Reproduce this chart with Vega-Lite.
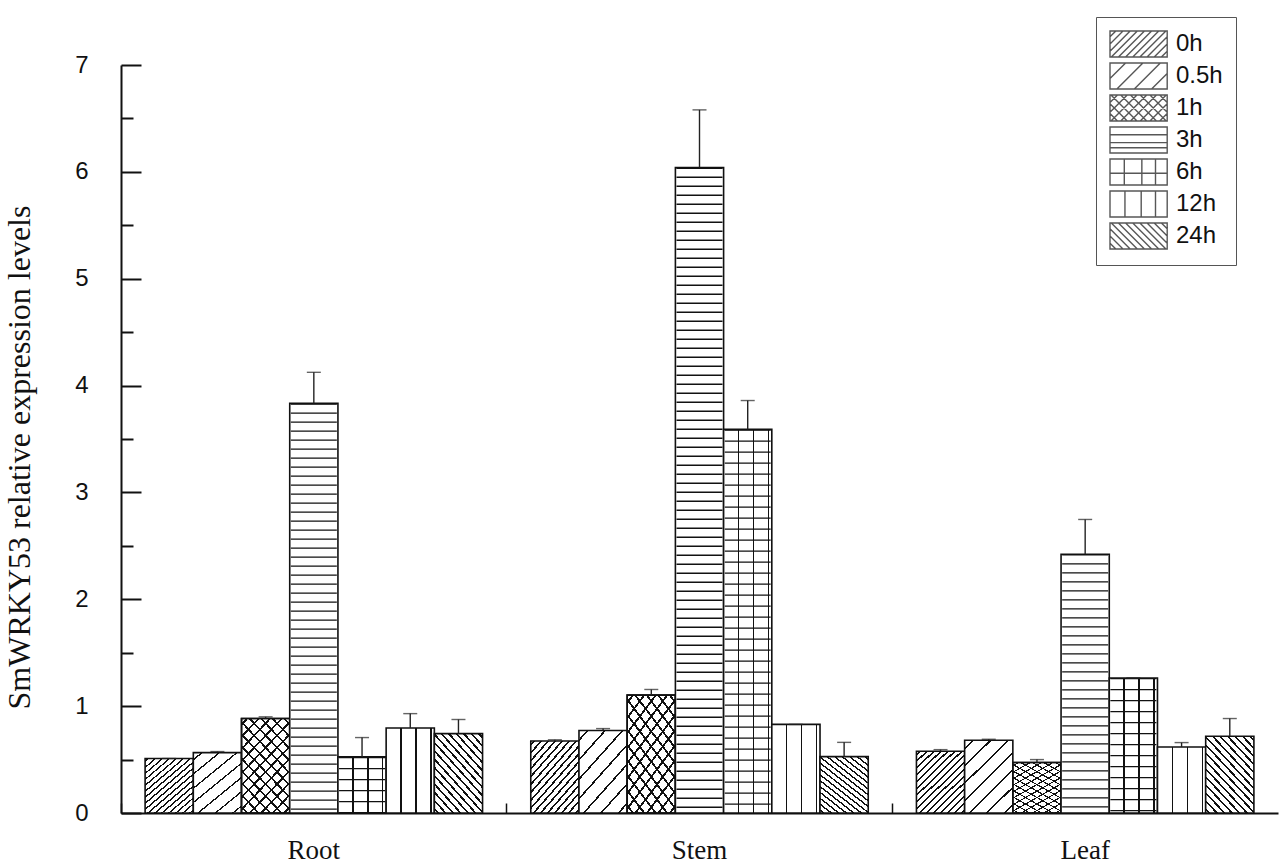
{
  "$schema": "https://vega.github.io/schema/vega-lite/v6.json",
  "width": 1157,
  "height": 748,
  "autosize": {"type": "none"},
  "padding": {"left": 121, "top": 65, "right": 2, "bottom": 52},
  "background": "white",
  "config": {
    "view": {"stroke": null},
    "axis": {"grid": false, "domainColor": "#111", "tickColor": "#111", "domainWidth": 2},
    "legend": {"symbolBaseStrokeColor": "#111"}
  },
  "data": {
    "values": [
      {"tissue": "Root", "time": "0h", "value": 0.51, "upper": 0.51},
      {"tissue": "Root", "time": "0.5h", "value": 0.565, "upper": 0.575},
      {"tissue": "Root", "time": "1h", "value": 0.884, "upper": 0.9},
      {"tissue": "Root", "time": "3h", "value": 3.833, "upper": 4.124},
      {"tissue": "Root", "time": "6h", "value": 0.525, "upper": 0.706},
      {"tissue": "Root", "time": "12h", "value": 0.796, "upper": 0.93},
      {"tissue": "Root", "time": "24h", "value": 0.743, "upper": 0.875},
      {"tissue": "Stem", "time": "0h", "value": 0.674, "upper": 0.685},
      {"tissue": "Stem", "time": "0.5h", "value": 0.772, "upper": 0.79},
      {"tissue": "Stem", "time": "1h", "value": 1.103, "upper": 1.156},
      {"tissue": "Stem", "time": "3h", "value": 6.04, "upper": 6.58},
      {"tissue": "Stem", "time": "6h", "value": 3.59, "upper": 3.86},
      {"tissue": "Stem", "time": "12h", "value": 0.829, "upper": 0.829},
      {"tissue": "Stem", "time": "24h", "value": 0.528, "upper": 0.661},
      {"tissue": "Leaf", "time": "0h", "value": 0.578, "upper": 0.593},
      {"tissue": "Leaf", "time": "0.5h", "value": 0.681, "upper": 0.69},
      {"tissue": "Leaf", "time": "1h", "value": 0.472, "upper": 0.5},
      {"tissue": "Leaf", "time": "3h", "value": 2.422, "upper": 2.747},
      {"tissue": "Leaf", "time": "6h", "value": 1.264, "upper": 1.264},
      {"tissue": "Leaf", "time": "12h", "value": 0.618, "upper": 0.659},
      {"tissue": "Leaf", "time": "24h", "value": 0.718, "upper": 0.884}
    ]
  },
  "encoding": {
    "x": {
      "field": "tissue",
      "type": "nominal",
      "sort": ["Root", "Stem", "Leaf"],
      "scale": {"paddingInner": 0, "paddingOuter": 0},
      "axis": {
        "title": null,
        "bandPosition": 0,
        "tickSize": -10,
        "tickWidth": 1.5,
        "labelAngle": 0,
        "labelPadding": 34,
        "labelFont": "Liberation Serif",
        "labelFontSize": 27,
        "labelColor": "#111"
      }
    },
    "xOffset": {
      "field": "time",
      "type": "nominal",
      "sort": ["0h", "0.5h", "1h", "3h", "6h", "12h", "24h"],
      "scale": {"paddingInner": 0, "paddingOuter": 0.5}
    },
    "y": {
      "field": "value",
      "type": "quantitative",
      "scale": {"domain": [0, 7], "nice": false, "zero": true},
      "axis": {
        "values": [0, 0.5, 1, 1.5, 2, 2.5, 3, 3.5, 4, 4.5, 5, 5.5, 6, 6.5, 7],
        "tickSize": {"condition": {"test": "datum.value % 1 === 0", "value": -20}, "value": -12},
        "tickWidth": 2,
        "labelExpr": "datum.value % 1 === 0 ? '' + datum.value : ''",
        "labelOverlap": false,
        "labelPadding": 53,
        "labelFont": "Liberation Sans",
        "labelFontSize": 24,
        "labelColor": "#111",
        "title": "SmWRKY53 relative expression levels",
        "titleFont": "Liberation Serif",
        "titleFontSize": 32,
        "titleFontWeight": "normal",
        "titleColor": "#111",
        "titlePadding": 38,
        "titleY": 392
      }
    }
  },
  "layer": [
    {
      "transform": [{"filter": "datum.time === '0h'"}],
      "mark": {
        "type": "bar", "stroke": "#111", "strokeWidth": 1.6,
        "fill": {
          "gradient": "linear", "x1": 0, "y1": 0, "x2": 0.846, "y2": 1.117,
          "stops": [
            {"offset": 0.0219, "color": "#fff"}, {"offset": 0.0219, "color": "#111"}, {"offset": 0.0406, "color": "#111"}, {"offset": 0.0406, "color": "#fff"},
            {"offset": 0.0844, "color": "#fff"}, {"offset": 0.0844, "color": "#111"}, {"offset": 0.1031, "color": "#111"}, {"offset": 0.1031, "color": "#fff"},
            {"offset": 0.1469, "color": "#fff"}, {"offset": 0.1469, "color": "#111"}, {"offset": 0.1656, "color": "#111"}, {"offset": 0.1656, "color": "#fff"},
            {"offset": 0.2094, "color": "#fff"}, {"offset": 0.2094, "color": "#111"}, {"offset": 0.2281, "color": "#111"}, {"offset": 0.2281, "color": "#fff"},
            {"offset": 0.2719, "color": "#fff"}, {"offset": 0.2719, "color": "#111"}, {"offset": 0.2906, "color": "#111"}, {"offset": 0.2906, "color": "#fff"},
            {"offset": 0.3344, "color": "#fff"}, {"offset": 0.3344, "color": "#111"}, {"offset": 0.3531, "color": "#111"}, {"offset": 0.3531, "color": "#fff"},
            {"offset": 0.3969, "color": "#fff"}, {"offset": 0.3969, "color": "#111"}, {"offset": 0.4156, "color": "#111"}, {"offset": 0.4156, "color": "#fff"},
            {"offset": 0.4594, "color": "#fff"}, {"offset": 0.4594, "color": "#111"}, {"offset": 0.4781, "color": "#111"}, {"offset": 0.4781, "color": "#fff"},
            {"offset": 0.5219, "color": "#fff"}, {"offset": 0.5219, "color": "#111"}, {"offset": 0.5406, "color": "#111"}, {"offset": 0.5406, "color": "#fff"},
            {"offset": 0.5844, "color": "#fff"}, {"offset": 0.5844, "color": "#111"}, {"offset": 0.6031, "color": "#111"}, {"offset": 0.6031, "color": "#fff"},
            {"offset": 0.6469, "color": "#fff"}, {"offset": 0.6469, "color": "#111"}, {"offset": 0.6656, "color": "#111"}, {"offset": 0.6656, "color": "#fff"},
            {"offset": 0.7094, "color": "#fff"}, {"offset": 0.7094, "color": "#111"}, {"offset": 0.7281, "color": "#111"}, {"offset": 0.7281, "color": "#fff"},
            {"offset": 0.7719, "color": "#fff"}, {"offset": 0.7719, "color": "#111"}, {"offset": 0.7906, "color": "#111"}, {"offset": 0.7906, "color": "#fff"},
            {"offset": 0.8344, "color": "#fff"}, {"offset": 0.8344, "color": "#111"}, {"offset": 0.8531, "color": "#111"}, {"offset": 0.8531, "color": "#fff"},
            {"offset": 0.8969, "color": "#fff"}, {"offset": 0.8969, "color": "#111"}, {"offset": 0.9156, "color": "#111"}, {"offset": 0.9156, "color": "#fff"},
            {"offset": 0.9594, "color": "#fff"}, {"offset": 0.9594, "color": "#111"}, {"offset": 0.9781, "color": "#111"}, {"offset": 0.9781, "color": "#fff"}
          ]
        }
      }
    },
    {
      "transform": [{"filter": "datum.time === '0.5h'"}],
      "mark": {
        "type": "bar", "stroke": "#111", "strokeWidth": 1.6,
        "fill": {
          "gradient": "linear", "x1": 0, "y1": 0, "x2": 0.757, "y2": 1.159,
          "stops": [
            {"offset": 0.0629, "color": "#fff"}, {"offset": 0.0629, "color": "#111"}, {"offset": 0.08, "color": "#111"}, {"offset": 0.08, "color": "#fff"},
            {"offset": 0.2057, "color": "#fff"}, {"offset": 0.2057, "color": "#111"}, {"offset": 0.2229, "color": "#111"}, {"offset": 0.2229, "color": "#fff"},
            {"offset": 0.3486, "color": "#fff"}, {"offset": 0.3486, "color": "#111"}, {"offset": 0.3657, "color": "#111"}, {"offset": 0.3657, "color": "#fff"},
            {"offset": 0.4914, "color": "#fff"}, {"offset": 0.4914, "color": "#111"}, {"offset": 0.5086, "color": "#111"}, {"offset": 0.5086, "color": "#fff"},
            {"offset": 0.6343, "color": "#fff"}, {"offset": 0.6343, "color": "#111"}, {"offset": 0.6514, "color": "#111"}, {"offset": 0.6514, "color": "#fff"},
            {"offset": 0.7771, "color": "#fff"}, {"offset": 0.7771, "color": "#111"}, {"offset": 0.7943, "color": "#111"}, {"offset": 0.7943, "color": "#fff"},
            {"offset": 0.92, "color": "#fff"}, {"offset": 0.92, "color": "#111"}, {"offset": 0.9371, "color": "#111"}, {"offset": 0.9371, "color": "#fff"}
          ]
        }
      }
    },
    {
      "transform": [{"filter": "datum.time === '1h'"}],
      "mark": {
        "type": "bar", "stroke": "#111", "strokeWidth": 1.6,
        "fill": {
          "gradient": "linear", "x1": 0, "y1": 0, "x2": 0.645, "y2": 1.193,
          "stops": [
            {"offset": 0.0333, "color": "#fff"}, {"offset": 0.0333, "color": "#111"}, {"offset": 0.05, "color": "#111"}, {"offset": 0.05, "color": "#fff"},
            {"offset": 0.1167, "color": "#fff"}, {"offset": 0.1167, "color": "#111"}, {"offset": 0.1333, "color": "#111"}, {"offset": 0.1333, "color": "#fff"},
            {"offset": 0.2, "color": "#fff"}, {"offset": 0.2, "color": "#111"}, {"offset": 0.2167, "color": "#111"}, {"offset": 0.2167, "color": "#fff"},
            {"offset": 0.2833, "color": "#fff"}, {"offset": 0.2833, "color": "#111"}, {"offset": 0.3, "color": "#111"}, {"offset": 0.3, "color": "#fff"},
            {"offset": 0.3667, "color": "#fff"}, {"offset": 0.3667, "color": "#111"}, {"offset": 0.3833, "color": "#111"}, {"offset": 0.3833, "color": "#fff"},
            {"offset": 0.45, "color": "#fff"}, {"offset": 0.45, "color": "#111"}, {"offset": 0.4667, "color": "#111"}, {"offset": 0.4667, "color": "#fff"},
            {"offset": 0.5333, "color": "#fff"}, {"offset": 0.5333, "color": "#111"}, {"offset": 0.55, "color": "#111"}, {"offset": 0.55, "color": "#fff"},
            {"offset": 0.6167, "color": "#fff"}, {"offset": 0.6167, "color": "#111"}, {"offset": 0.6333, "color": "#111"}, {"offset": 0.6333, "color": "#fff"},
            {"offset": 0.7, "color": "#fff"}, {"offset": 0.7, "color": "#111"}, {"offset": 0.7167, "color": "#111"}, {"offset": 0.7167, "color": "#fff"},
            {"offset": 0.7833, "color": "#fff"}, {"offset": 0.7833, "color": "#111"}, {"offset": 0.8, "color": "#111"}, {"offset": 0.8, "color": "#fff"},
            {"offset": 0.8667, "color": "#fff"}, {"offset": 0.8667, "color": "#111"}, {"offset": 0.8833, "color": "#111"}, {"offset": 0.8833, "color": "#fff"},
            {"offset": 0.95, "color": "#fff"}, {"offset": 0.95, "color": "#111"}, {"offset": 0.9667, "color": "#111"}, {"offset": 0.9667, "color": "#fff"}
          ]
        }
      }
    },
    {
      "transform": [{"filter": "datum.time === '1h'"}],
      "mark": {
        "type": "bar", "stroke": "#111", "strokeWidth": 1.6,
        "fill": {
          "gradient": "linear", "x1": 1, "y1": 0, "x2": 0.355, "y2": 1.193,
          "stops": [
            {"offset": 0.0333, "color": "transparent"}, {"offset": 0.0333, "color": "#111"}, {"offset": 0.05, "color": "#111"}, {"offset": 0.05, "color": "transparent"},
            {"offset": 0.1167, "color": "transparent"}, {"offset": 0.1167, "color": "#111"}, {"offset": 0.1333, "color": "#111"}, {"offset": 0.1333, "color": "transparent"},
            {"offset": 0.2, "color": "transparent"}, {"offset": 0.2, "color": "#111"}, {"offset": 0.2167, "color": "#111"}, {"offset": 0.2167, "color": "transparent"},
            {"offset": 0.2833, "color": "transparent"}, {"offset": 0.2833, "color": "#111"}, {"offset": 0.3, "color": "#111"}, {"offset": 0.3, "color": "transparent"},
            {"offset": 0.3667, "color": "transparent"}, {"offset": 0.3667, "color": "#111"}, {"offset": 0.3833, "color": "#111"}, {"offset": 0.3833, "color": "transparent"},
            {"offset": 0.45, "color": "transparent"}, {"offset": 0.45, "color": "#111"}, {"offset": 0.4667, "color": "#111"}, {"offset": 0.4667, "color": "transparent"},
            {"offset": 0.5333, "color": "transparent"}, {"offset": 0.5333, "color": "#111"}, {"offset": 0.55, "color": "#111"}, {"offset": 0.55, "color": "transparent"},
            {"offset": 0.6167, "color": "transparent"}, {"offset": 0.6167, "color": "#111"}, {"offset": 0.6333, "color": "#111"}, {"offset": 0.6333, "color": "transparent"},
            {"offset": 0.7, "color": "transparent"}, {"offset": 0.7, "color": "#111"}, {"offset": 0.7167, "color": "#111"}, {"offset": 0.7167, "color": "transparent"},
            {"offset": 0.7833, "color": "transparent"}, {"offset": 0.7833, "color": "#111"}, {"offset": 0.8, "color": "#111"}, {"offset": 0.8, "color": "transparent"},
            {"offset": 0.8667, "color": "transparent"}, {"offset": 0.8667, "color": "#111"}, {"offset": 0.8833, "color": "#111"}, {"offset": 0.8833, "color": "transparent"},
            {"offset": 0.95, "color": "transparent"}, {"offset": 0.95, "color": "#111"}, {"offset": 0.9667, "color": "#111"}, {"offset": 0.9667, "color": "transparent"}
          ]
        }
      }
    },
    {
      "transform": [{"filter": "datum.time === '3h'"}],
      "mark": {"type": "bar", "stroke": "#111", "strokeWidth": 1.6, "fill": "white"}
    },
    {
      "transform": [{"filter": "datum.time === '6h' || datum.time === '12h'"}],
      "mark": {
        "type": "bar", "stroke": "#111", "strokeWidth": 1.6,
        "fill": {
          "gradient": "linear", "x1": 0, "y1": 0, "x2": 1, "y2": 0,
          "stops": [
            {"offset": 0.295, "color": "#fff"}, {"offset": 0.295, "color": "#111"}, {"offset": 0.325, "color": "#111"}, {"offset": 0.325, "color": "#fff"},
            {"offset": 0.605, "color": "#fff"}, {"offset": 0.605, "color": "#111"}, {"offset": 0.635, "color": "#111"}, {"offset": 0.635, "color": "#fff"},
            {"offset": 0.915, "color": "#fff"}, {"offset": 0.915, "color": "#111"}, {"offset": 0.945, "color": "#111"}, {"offset": 0.945, "color": "#fff"}
          ]
        }
      }
    },
    {
      "transform": [{"filter": "datum.time === '24h'"}],
      "mark": {
        "type": "bar", "stroke": "#111", "strokeWidth": 1.6,
        "fill": {
          "gradient": "linear", "x1": 1, "y1": 0, "x2": 0.227, "y2": 1.152,
          "stops": [
            {"offset": 0.0219, "color": "#fff"}, {"offset": 0.0219, "color": "#111"}, {"offset": 0.0406, "color": "#111"}, {"offset": 0.0406, "color": "#fff"},
            {"offset": 0.0844, "color": "#fff"}, {"offset": 0.0844, "color": "#111"}, {"offset": 0.1031, "color": "#111"}, {"offset": 0.1031, "color": "#fff"},
            {"offset": 0.1469, "color": "#fff"}, {"offset": 0.1469, "color": "#111"}, {"offset": 0.1656, "color": "#111"}, {"offset": 0.1656, "color": "#fff"},
            {"offset": 0.2094, "color": "#fff"}, {"offset": 0.2094, "color": "#111"}, {"offset": 0.2281, "color": "#111"}, {"offset": 0.2281, "color": "#fff"},
            {"offset": 0.2719, "color": "#fff"}, {"offset": 0.2719, "color": "#111"}, {"offset": 0.2906, "color": "#111"}, {"offset": 0.2906, "color": "#fff"},
            {"offset": 0.3344, "color": "#fff"}, {"offset": 0.3344, "color": "#111"}, {"offset": 0.3531, "color": "#111"}, {"offset": 0.3531, "color": "#fff"},
            {"offset": 0.3969, "color": "#fff"}, {"offset": 0.3969, "color": "#111"}, {"offset": 0.4156, "color": "#111"}, {"offset": 0.4156, "color": "#fff"},
            {"offset": 0.4594, "color": "#fff"}, {"offset": 0.4594, "color": "#111"}, {"offset": 0.4781, "color": "#111"}, {"offset": 0.4781, "color": "#fff"},
            {"offset": 0.5219, "color": "#fff"}, {"offset": 0.5219, "color": "#111"}, {"offset": 0.5406, "color": "#111"}, {"offset": 0.5406, "color": "#fff"},
            {"offset": 0.5844, "color": "#fff"}, {"offset": 0.5844, "color": "#111"}, {"offset": 0.6031, "color": "#111"}, {"offset": 0.6031, "color": "#fff"},
            {"offset": 0.6469, "color": "#fff"}, {"offset": 0.6469, "color": "#111"}, {"offset": 0.6656, "color": "#111"}, {"offset": 0.6656, "color": "#fff"},
            {"offset": 0.7094, "color": "#fff"}, {"offset": 0.7094, "color": "#111"}, {"offset": 0.7281, "color": "#111"}, {"offset": 0.7281, "color": "#fff"},
            {"offset": 0.7719, "color": "#fff"}, {"offset": 0.7719, "color": "#111"}, {"offset": 0.7906, "color": "#111"}, {"offset": 0.7906, "color": "#fff"},
            {"offset": 0.8344, "color": "#fff"}, {"offset": 0.8344, "color": "#111"}, {"offset": 0.8531, "color": "#111"}, {"offset": 0.8531, "color": "#fff"},
            {"offset": 0.8969, "color": "#fff"}, {"offset": 0.8969, "color": "#111"}, {"offset": 0.9156, "color": "#111"}, {"offset": 0.9156, "color": "#fff"},
            {"offset": 0.9594, "color": "#fff"}, {"offset": 0.9594, "color": "#111"}, {"offset": 0.9781, "color": "#111"}, {"offset": 0.9781, "color": "#fff"}
          ]
        }
      }
    },
    {
      "transform": [{"filter": "datum.time === '3h'"}],
      "mark": {"type": "rule", "color": "#111", "strokeWidth": 46, "strokeDash": [1.4, 7.6]},
      "encoding": {"y2": {"datum": 0}}
    },
    {
      "transform": [{"filter": "datum.time === '6h'"}],
      "mark": {"type": "rule", "color": "#111", "strokeWidth": 46, "strokeDash": [1.4, 9.6]},
      "encoding": {"y2": {"datum": 0}}
    },
    {
      "mark": {"type": "rule", "color": "#222", "strokeWidth": 1.4},
      "encoding": {"y2": {"field": "upper"}}
    },
    {
      "mark": {"type": "tick", "color": "#222", "size": 14, "thickness": 1.4},
      "encoding": {"y": {"field": "upper", "type": "quantitative"}}
    },
    {
      "transform": [{"filter": "false"}],
      "mark": {"type": "point", "filled": true, "fill": "white", "stroke": "#111", "strokeWidth": 1.4},
      "encoding": {
        "shape": {
          "field": "time",
          "type": "nominal",
          "scale": {
            "domain": ["0h", "0.5h", "1h", "3h", "6h", "12h", "24h"],
            "range": [
              "M-1,-1H3.4V1H-1Z M-1,-0.55L-0.55,-1 M-1,0L0,-1 M-1,0.55L0.55,-1 M-0.9,1L1.1,-1 M-0.35,1L1.65,-1 M0.2,1L2.2,-1 M0.75,1L2.75,-1 M1.3,1L3.3,-1 M1.85,1L3.4,-0.55 M2.4,1L3.4,0 M2.95,1L3.4,0.55",
              "M-1,-1H3.4V1H-1Z M-1,0.2L0.2,-1 M-0.47,1L1.53,-1 M0.87,1L2.87,-1 M2.2,1L3.4,-0.2",
              "M-1,-1H3.4V1H-1Z M-1,-0.425L-0.425,-1 M-1,0.325L0.325,-1 M-0.925,1L1.075,-1 M-0.175,1L1.825,-1 M0.575,1L2.575,-1 M1.325,1L3.325,-1 M2.075,1L3.4,-0.325 M2.825,1L3.4,0.425 M3.4,-0.425L2.825,-1 M3.4,0.325L2.075,-1 M3.325,1L1.325,-1 M2.575,1L0.575,-1 M1.825,1L-0.175,-1 M1.075,1L-0.925,-1 M0.325,1L-1,-0.325 M-0.425,1L-1,0.425",
              "M-1,-1H3.4V1H-1Z M-1,-0.4H3.4 M-1,0.2H3.4 M-1,0.6H3.4",
              "M-1,-1H3.4V1H-1Z M0.1,-1V1 M1.45,-1V1 M2.5,-1V1 M-1,0.1H3.4",
              "M-1,-1H3.4V1H-1Z M0.15,-1V1 M1.4,-1V1 M2.5,-1V1",
              "M-1,-1H3.4V1H-1Z M3.4,-0.55L2.95,-1 M3.4,0L2.4,-1 M3.4,0.55L1.85,-1 M3.3,1L1.3,-1 M2.75,1L0.75,-1 M2.2,1L0.2,-1 M1.65,1L-0.35,-1 M1.1,1L-0.9,-1 M0.55,1L-1,-0.55 M0,1L-1,0 M-0.55,1L-1,0.55"
            ]
          },
          "legend": {
            "title": null,
            "orient": "none",
            "legendX": 975,
            "legendY": -48,
            "padding": 13,
            "rowPadding": 0,
            "symbolSize": 676,
            "symbolStrokeWidth": 1.4,
            "labelFont": "Liberation Sans",
            "labelFontSize": 24,
            "labelColor": "#111",
            "labelOffset": 39,
            "strokeColor": "#555",
            "fillColor": "white"
          }
        }
      }
    }
  ]
}
